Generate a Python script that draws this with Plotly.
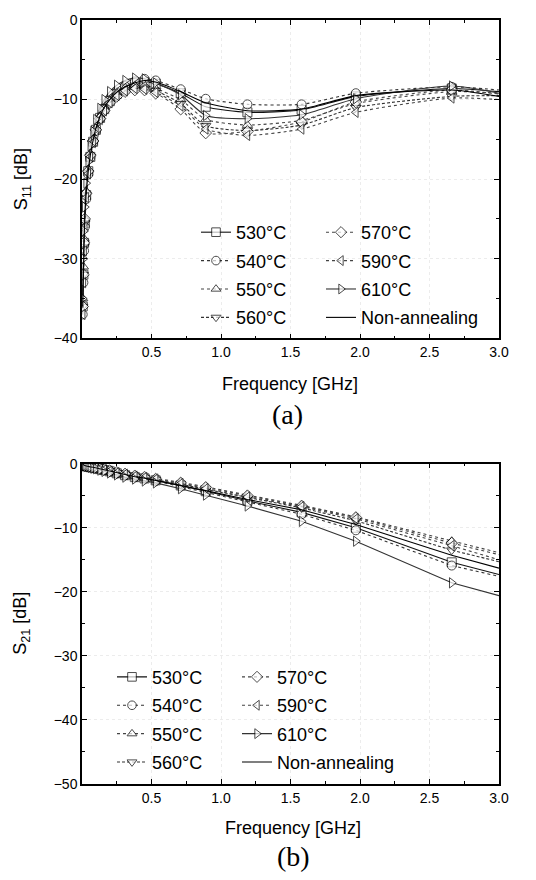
import plotly.graph_objects as go

# ---------------- data ----------------
freq = [0.005, 0.01, 0.015, 0.02, 0.03, 0.045, 0.06, 0.08, 0.10, 0.13, 0.16, 0.20,
        0.25, 0.31, 0.38, 0.45, 0.53, 0.71, 0.89, 1.19, 1.58, 1.97, 2.66, 3.0]

series_names = ["530°C", "540°C", "550°C", "560°C", "570°C", "590°C", "610°C", "Non-annealing"]

s11_530 = [-36, -32, -28, -25.5, -22, -19, -17.2, -15.3, -13.8, -12.3, -11.2, -10.2, -9.3, -8.6, -8.1, -7.8, -8.0, -9.2, -10.9, -11.6, -11.3, -9.6, -8.6, -9.0]
s11_540 = [-37, -33, -29, -26, -22.5, -19.4, -17.3, -15.4, -13.9, -12.4, -11.2, -10.1, -9.1, -8.3, -7.7, -7.4, -7.6, -8.7, -9.9, -10.6, -10.6, -9.2, -8.4, -8.8]
s11_550 = [-35, -31, -27.5, -25, -21.5, -18.8, -16.8, -15, -13.6, -12.1, -11.1, -10.1, -9.2, -8.5, -8.2, -8.2, -8.6, -10.0, -12.5, -13.2, -12.6, -10.5, -9.0, -9.2]
s11_560 = [-36, -32, -28.5, -25.5, -22, -19.2, -17.2, -15.4, -14, -12.6, -11.5, -10.5, -9.6, -9.0, -8.7, -8.6, -8.9, -10.5, -13.3, -13.9, -13.2, -11.0, -9.6, -9.5]
s11_570 = [-36, -32, -28, -25, -21.8, -19, -17, -15.2, -13.8, -12.4, -11.4, -10.4, -9.6, -9.0, -8.8, -8.8, -9.2, -11.2, -14.2, -14.0, -12.8, -10.3, -8.8, -9.3]
s11_590 = [-37, -33, -29, -26, -22.3, -19.3, -17.2, -15.4, -14, -12.5, -11.4, -10.4, -9.5, -8.9, -8.6, -8.7, -9.1, -10.8, -13.7, -14.5, -13.7, -11.6, -9.8, -10.0]
s11_610 = [-35, -30, -26.5, -23.5, -20.5, -17.8, -15.8, -14, -12.5, -11.1, -10, -9, -8.2, -7.6, -7.3, -7.4, -7.9, -9.4, -12.0, -12.4, -11.9, -9.9, -8.3, -9.2]
s11_non = [-36, -32, -28, -25, -21.8, -19, -17, -15.1, -13.6, -12.1, -11, -10, -9.1, -8.4, -7.9, -7.6, -7.8, -9.0, -10.4, -11.4, -11.2, -9.5, -8.8, -9.6]

s21_530 = [-0.1, -0.2, -0.25, -0.3, -0.35, -0.45, -0.5, -0.6, -0.7, -0.85, -1.0, -1.2, -1.5, -1.8, -2.1, -2.3, -2.6, -3.4, -4.3, -5.8, -7.6, -10.0, -15.4, -17.3]
s21_540 = [-0.1, -0.2, -0.25, -0.3, -0.4, -0.45, -0.5, -0.6, -0.7, -0.85, -1.0, -1.25, -1.5, -1.8, -2.1, -2.3, -2.7, -3.5, -4.4, -6.0, -7.9, -10.4, -15.9, -17.6]
s21_550 = [-0.1, -0.15, -0.2, -0.25, -0.3, -0.35, -0.4, -0.5, -0.6, -0.75, -0.9, -1.1, -1.3, -1.6, -1.9, -2.1, -2.3, -2.9, -3.6, -4.9, -6.5, -8.3, -12.1, -13.9]
s21_560 = [-0.1, -0.2, -0.25, -0.3, -0.35, -0.4, -0.45, -0.55, -0.65, -0.8, -0.95, -1.15, -1.4, -1.7, -2.0, -2.2, -2.5, -3.2, -4.0, -5.3, -6.9, -8.9, -13.5, -15.3]
s21_570 = [-0.1, -0.15, -0.2, -0.25, -0.3, -0.35, -0.45, -0.5, -0.6, -0.75, -0.9, -1.1, -1.35, -1.6, -1.9, -2.1, -2.4, -3.0, -3.7, -5.0, -6.6, -8.4, -12.4, -14.2]
s21_590 = [-0.1, -0.2, -0.2, -0.25, -0.3, -0.4, -0.45, -0.5, -0.6, -0.8, -0.95, -1.15, -1.4, -1.65, -1.95, -2.15, -2.4, -3.1, -3.9, -5.2, -6.7, -8.6, -12.8, -15.0]
s21_610 = [-0.15, -0.25, -0.3, -0.35, -0.45, -0.5, -0.6, -0.7, -0.8, -1.0, -1.2, -1.45, -1.75, -2.1, -2.4, -2.7, -3.0, -3.9, -4.9, -6.6, -9.0, -12.1, -18.6, -20.6]
s21_non = [-0.1, -0.2, -0.25, -0.3, -0.35, -0.45, -0.5, -0.55, -0.65, -0.8, -0.95, -1.2, -1.45, -1.75, -2.05, -2.25, -2.6, -3.3, -4.2, -5.6, -7.2, -9.5, -14.3, -16.3]

x_tick_vals = [0.5, 1.0, 1.5, 2.0, 2.5, 3.0]
x_tick_text = ["0.5", "1.0", "1.5", "2.0", "2.5", "3.0"]

# ---------------- styles ----------------
s11_data = [s11_530, s11_540, s11_550, s11_560, s11_570, s11_590, s11_610, s11_non]
s21_data = [s21_530, s21_540, s21_550, s21_560, s21_570, s21_590, s21_610, s21_non]
symbols = ["square", "circle", "triangle-up", "triangle-down", "diamond",
           "triangle-left", "triangle-right", None]
dashes = ["solid", "dot", "dot", "3px,2px", "dot", "dot", "solid", "solid"]
line_colors = ["#111", "#333", "#444", "#333", "#444", "#444", "#333", "#000"]

FONT = "Liberation Sans, Arial, sans-serif"
SERIF = "Liberation Serif, Times New Roman, serif"

fig = go.Figure()

def add_series(data, xa, ya, legs, shape):
    for i, name in enumerate(series_names):
        leg = legs[0] if i < 4 else legs[1]
        sym = symbols[i]
        kw = dict(x=freq, y=data[i], name=name, xaxis=xa, yaxis=ya,
                  legend=leg, legendgroup=f"{leg}_{i}",
                  line=dict(color=line_colors[i], width=1.1, dash=dashes[i], shape=shape,
                            smoothing=0.6 if shape == "spline" else None))
        if sym is None:
            kw["mode"] = "lines"
        else:
            n = len(freq)
            kw["mode"] = "lines+markers"
            kw["marker"] = dict(symbol=sym, size=[9] * (n - 1) + [0], color="white",
                                line=dict(color="black", width=1))
        fig.add_trace(go.Scatter(**kw))

add_series(s11_data, "x", "y", ["legend", "legend2"], "spline")
add_series(s21_data, "x2", "y2", ["legend3", "legend4"], "linear")

TOP = 16
PH = 768
def py(px):
    return 1 - (px - TOP) / PH

def px_x(px):
    return (px - 82) / 417

axis_common = dict(showline=True, linecolor="black", linewidth=1.5, mirror="ticks",
                   ticks="inside", ticklen=5, tickwidth=1, tickcolor="black",
                   showgrid=True, gridcolor="#ececec", griddash="dot", gridwidth=1,
                   zeroline=False, tickfont=dict(family=FONT, size=14, color="black"))

xaxis_cfg = dict(axis_common, range=[0, 3.0], tickmode="array", tickvals=x_tick_vals,
                 ticktext=x_tick_text,
                 minor=dict(ticks="inside", ticklen=3, tickcolor="black", dtick=0.25, tick0=0,
                            showgrid=False))

legend_common = dict(bgcolor="rgba(0,0,0,0)", font=dict(family=FONT, size=18, color="black"),
                     tracegroupgap=2, orientation="v", xanchor="left", yanchor="top",
                     borderwidth=0)

fig.update_layout(
    width=536, height=880,
    margin=dict(l=82, r=37, t=TOP, b=96),
    plot_bgcolor="white", paper_bgcolor="white",
    font=dict(family=FONT, color="black"),
    xaxis=dict(xaxis_cfg, anchor="y", domain=[0, 1]),
    yaxis=dict(axis_common, anchor="x", domain=[py(336), 1.0], range=[-40, 0],
               dtick=10, tick0=0,
               minor=dict(ticks="inside", ticklen=3, tickcolor="black", dtick=5, showgrid=False)),
    xaxis2=dict(xaxis_cfg, anchor="y2", domain=[0, 1]),
    yaxis2=dict(axis_common, anchor="x2", domain=[0, py(462)], range=[-50, 0],
                dtick=10, tick0=0,
                minor=dict(ticks="inside", ticklen=3, tickcolor="black", dtick=5, showgrid=False)),
    legend=dict(legend_common, x=px_x(196), y=py(211)),
    legend2=dict(legend_common, x=px_x(321), y=py(211)),
    legend3=dict(legend_common, x=px_x(112), y=py(658)),
    legend4=dict(legend_common, x=px_x(237), y=py(658)),
)

annotations = [
    dict(text="Frequency [GHz]", x=px_x(290), y=py(382), font=dict(size=18)),
    dict(text="(a)", x=px_x(287), y=py(413), font=dict(family=SERIF, size=28)),
    dict(text="Frequency [GHz]", x=px_x(293), y=py(828), font=dict(size=18)),
    dict(text="(b)", x=px_x(293), y=py(857), font=dict(family=SERIF, size=28)),
    dict(text="S<sub>11</sub> [dB]", x=px_x(22), y=py(176), textangle=-90, font=dict(size=18)),
    dict(text="S<sub>21</sub> [dB]", x=px_x(22), y=py(623), textangle=-90, font=dict(size=18)),
]
for a in annotations:
    f = dict(family=FONT, color="black")
    f.update(a.pop("font"))
    fig.add_annotation(xref="paper", yref="paper", showarrow=False,
                       xanchor="center", yanchor="middle", font=f, **a)

fig.write_html("out.html")
